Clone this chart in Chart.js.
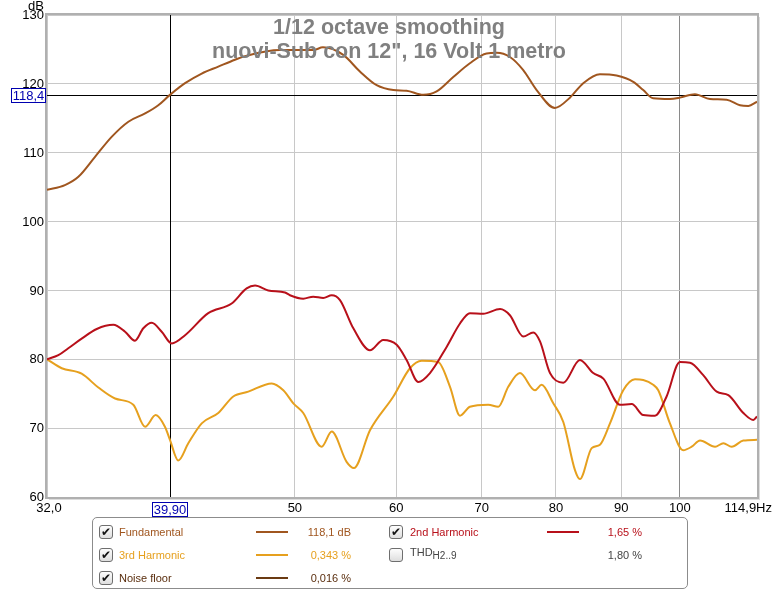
<!DOCTYPE html>
<html>
<head>
<meta charset="utf-8">
<script src="https://cdn.jsdelivr.net/npm/chart.js@4.4.1/dist/chart.umd.min.js"></script>
<style>
  body { margin: 0; background: #fff; font-family: "Liberation Sans", Arial, sans-serif; }
  #wrap { position: relative; width: 780px; height: 591px; }
  #chart { position: absolute; left: 0; top: 0; }
  #legend {
    position: absolute; left: 92px; top: 517px; width: 594px; height: 70px;
    border: 1px solid #8c8c8c; border-radius: 5px; font-size: 11px;
  }
  .item { position: absolute; height: 16px; line-height: 16px; white-space: nowrap; }
  .cb {
    position: absolute; width: 12px; height: 12px; border: 1px solid #6e6e6e; border-radius: 3px;
    background: linear-gradient(#fdfdfd, #dedede); font-size: 12px; line-height: 12px;
    text-align: center; color: #111; font-family: "DejaVu Sans", sans-serif; font-weight: bold;
  }
  .swatch { position: absolute; height: 2px; width: 32px; }
  .val { position: absolute; text-align: right; width: 80px; }
</style>
</head>
<body>
<div id="wrap">
  <canvas id="chart" width="780" height="591"></canvas>
  <div id="legend"></div>
</div>
<script>
// chart text
const titleLines = ["1/12 octave smoothing", "nuovi-Sub con 12\", 16 Volt 1 metro"];
const yTicks = [60, 70, 80, 90, 100, 110, 120, 130];
const xTicks = [32, 50, 60, 70, 80, 90, 100, 114.9];
const xTickLabels = ["32,0", "50", "60", "70", "80", "90", "100", "114,9Hz"];
const cursorFreq = 39.9;
const cursorLevel = 118.4;

// Fundamental (dB)
const fundFreq = [32.0, 33.05, 33.86, 34.89, 35.95, 37.05, 38.18, 39.10, 39.93, 41.03, 42.28, 43.56, 44.89, 45.70,
  48.67, 51.68, 52.59, 54.55, 56.21, 57.93, 59.70, 61.14, 63.00, 64.54, 66.50, 68.52, 70.61, 71.90, 73.64,
  75.43, 77.27, 79.86, 82.04, 84.03, 86.60, 89.23, 91.95, 93.62, 95.31, 98.23, 100.0, 102.75, 105.57,
  108.80, 111.44, 113.13, 114.9];
const fundDb = [104.6, 105.3, 106.5, 109.4, 112.3, 114.5, 115.7, 116.9, 118.4, 120.1, 121.5, 122.5, 123.5, 124.0,
  124.9, 124.9, 125.3, 124.2, 121.8, 119.8, 119.1, 119.0, 118.4, 118.9, 121.0, 123.0, 124.4, 124.5, 123.9,
  122.0, 119.1, 116.5, 118.0, 120.1, 121.4, 121.2, 120.3, 119.1, 117.9, 117.8, 118.0, 118.5, 117.8,
  117.7, 116.9, 116.8, 117.4];

// 2nd harmonic
const h2Freq = [32.0, 32.66, 33.25, 34.06, 35.00, 36.06, 36.83, 37.49, 38.06, 38.64, 39.34, 40.06, 41.03, 42.78,
  44.62, 45.84, 46.54, 47.66, 49.12, 49.56, 50.76, 51.68, 52.62, 53.43, 54.23, 55.55, 57.24, 58.62, 60.06,
  61.14, 62.44, 63.77, 65.71, 67.31, 68.52, 70.19, 72.34, 73.64, 75.43, 76.80, 77.74, 79.15, 81.07, 83.53,
  85.56, 87.13, 89.77, 91.70, 93.62, 95.62, 97.64, 100.0, 101.84, 104.30, 106.86, 109.12, 112.11, 114.14, 114.9];
const h2Db = [80.0, 80.6, 81.6, 83.0, 84.4, 85.0, 84.0, 82.7, 84.5, 85.3, 84.0, 82.3, 83.5, 86.7,
  88.1, 90.3, 90.7, 90.0, 89.7, 89.3, 88.8, 89.1, 88.9, 89.3, 88.6, 84.5, 81.3, 82.8, 82.1,
  79.9, 76.7, 78.0, 81.8, 85.2, 86.7, 86.6, 87.3, 86.4, 83.3, 83.9, 82.6, 78.0, 76.6, 79.9,
  78.0, 77.2, 73.4, 73.5, 71.9, 71.8, 74.6, 79.6, 79.5, 77.7, 75.3, 74.8, 72.2, 71.2, 71.7];

// 3rd harmonic
const h3Freq = [32.0, 32.86, 34.06, 35.10, 36.17, 37.38, 38.18, 38.92, 39.57, 39.93, 40.53, 41.27, 42.28, 43.56,
  44.75, 45.98, 47.96, 48.97, 49.86, 50.76, 52.47, 53.43, 54.88, 55.61, 57.24, 59.70, 61.51, 62.83, 64.72,
  66.11, 67.31, 68.52, 70.82, 72.11, 73.42, 74.98, 77.03, 77.97, 79.62, 81.07, 82.79, 83.53, 85.32, 86.60,
  88.18, 90.31, 92.24, 93.62, 95.31, 96.19, 98.23, 100.61, 102.15, 103.70, 106.54, 108.15, 109.78, 112.11, 114.9];
const h3Db = [80.0, 78.7, 77.9, 75.9, 74.3, 73.4, 70.2, 71.9, 70.2, 68.3, 65.3, 67.8, 70.7, 72.2,
  74.6, 75.3, 76.5, 75.5, 73.6, 72.2, 67.3, 69.5, 65.1, 64.2, 69.7, 74.6, 78.7, 79.8, 79.6,
  76.0, 71.8, 73.1, 73.4, 73.1, 76.0, 78.0, 75.5, 76.3, 73.6, 70.9, 63.9, 62.6, 67.1, 67.6,
  70.7, 75.5, 77.1, 77.0, 76.3, 75.5, 70.7, 66.8, 67.3, 68.2, 67.3, 67.8, 67.3, 68.2, 68.3];

const colFund = "#a0561f";
const colH2 = "#b8101a";
const colH3 = "#e6a01e";
const colNoise = "#6a3a12";

// legend rows
const legendNames = ["Fundamental", "3rd Harmonic", "Noise floor", "2nd Harmonic", "THD"];
const legendValues = ["118,1 dB", "0,343 %", "0,016 %", "1,65 %", "1,80 %"];
const legendColors = [colFund, colH3, colNoise, colH2, null];
const legendTextColors = [colFund, colH3, "#5a2e0e", colH2, "#444"];
const legendChecked = [true, true, true, true, false];

function pts(fs, vs) {
  return fs.map((f, i) => ({ x: f, y: vs[i] }));
}

const FONT = '"Liberation Sans", Arial, sans-serif';

const decorPlugin = {
  id: "decor",
  beforeDatasetsDraw(chart) {
    const { ctx, chartArea: a, scales } = chart;
    const cx = scales.x.getPixelForValue(cursorFreq);
    const cy = scales.y.getPixelForValue(cursorLevel);
    ctx.save();
    ctx.strokeStyle = "#000";
    ctx.lineWidth = 1;
    ctx.beginPath();
    ctx.moveTo(Math.round(cx) + 0.5, a.top);
    ctx.lineTo(Math.round(cx) + 0.5, a.bottom);
    ctx.moveTo(a.left, Math.round(cy) + 0.5);
    ctx.lineTo(a.right, Math.round(cy) + 0.5);
    ctx.stroke();
    ctx.restore();
  },
  afterDatasetsDraw(chart) {
    const { ctx, chartArea: a, scales } = chart;
    ctx.save();
    // frame
    ctx.strokeStyle = "#dcdcdc";
    ctx.lineWidth = 2;
    ctx.beginPath();
    ctx.moveTo(a.right + 2, a.top + 2);
    ctx.lineTo(a.right + 2, a.bottom + 2);
    ctx.lineTo(a.left + 2, a.bottom + 2);
    ctx.stroke();
    ctx.strokeStyle = "#b0b0b0";
    ctx.strokeRect(a.left - 1, a.top - 1, a.right - a.left + 2, a.bottom - a.top + 2);

    // title
    ctx.fillStyle = "#808080";
    ctx.font = "bold 21.5px " + FONT;
    ctx.textAlign = "center";
    ctx.textBaseline = "alphabetic";
    ctx.fillText(titleLines[0], 389, 34);
    ctx.fillText(titleLines[1], 389, 58);

    // y labels
    ctx.fillStyle = "#000";
    ctx.font = "13px " + FONT;
    ctx.textAlign = "right";
    ctx.textBaseline = "middle";
    yTicks.forEach(v => ctx.fillText(String(v), 44, scales.y.getPixelForValue(v) + 0.5));
    ctx.textAlign = "center";
    ctx.fillText("dB", 36, 6);

    // x labels
    ctx.textBaseline = "top";
    xTicks.forEach((v, i) => {
      let px = scales.x.getPixelForValue(v);
      if (i === 0) px += 2;
      if (i === xTicks.length - 1) { ctx.textAlign = "right"; px = 772; }
      ctx.fillText(xTickLabels[i], px, 502);
      ctx.textAlign = "center";
    });

    // cursor value boxes
    const cx = scales.x.getPixelForValue(cursorFreq);
    const cy = scales.y.getPixelForValue(cursorLevel);
    const fmt = (v, d) => v.toFixed(d).replace(".", ",");
    ctx.font = "13px " + FONT;
    const drawBox = (txt, x0, y0, w, h) => {
      ctx.fillStyle = "#fff";
      ctx.fillRect(x0, y0, w, h);
      ctx.strokeStyle = "#0000b0";
      ctx.lineWidth = 1;
      ctx.strokeRect(x0 + 0.5, y0 + 0.5, w - 1, h - 1);
      ctx.fillStyle = "#0000b0";
      ctx.textAlign = "center";
      ctx.textBaseline = "middle";
      ctx.fillText(txt, x0 + w / 2, y0 + h / 2 + 0.5);
    };
    drawBox(fmt(cursorLevel, 1), 11, Math.round(cy) - 7, 35, 15);
    drawBox(fmt(cursorFreq, 2), Math.round(cx) - 18, 502, 36, 15);
    ctx.restore();
  }
};

new Chart(document.getElementById("chart").getContext("2d"), {
  type: "line",
  data: {
    datasets: [
      { label: "Fundamental", data: pts(fundFreq, fundDb), borderColor: colFund },
      { label: "2nd Harmonic", data: pts(h2Freq, h2Db), borderColor: colH2 },
      { label: "3rd Harmonic", data: pts(h3Freq, h3Db), borderColor: colH3 }
    ]
  },
  options: {
    responsive: false,
    animation: false,
    layout: { padding: { left: 47, top: 15, right: 23, bottom: 94 } },
    elements: {
      point: { radius: 0 },
      line: { borderWidth: 2, cubicInterpolationMode: "monotone", fill: false }
    },
    plugins: { legend: { display: false }, tooltip: { enabled: false } },
    scales: {
      x: {
        type: "logarithmic", min: 32, max: 114.9,
        afterBuildTicks: s => { s.ticks = xTicks.map(v => ({ value: v })); },
        afterFit: s => { s.height = 0; },
        ticks: { display: false },
        border: { display: false },
        grid: {
          drawTicks: false,
          color: c => (c.tick.value === 100 ? "#8a8a8a" : "#c8c8c8")
        }
      },
      y: {
        min: 60, max: 130,
        afterBuildTicks: s => { s.ticks = yTicks.map(v => ({ value: v })); },
        afterFit: s => { s.width = 0; },
        ticks: { display: false },
        border: { display: false },
        grid: { drawTicks: false, color: "#c8c8c8" }
      }
    }
  },
  plugins: [decorPlugin]
});

// legend
const legend = document.getElementById("legend");
const cols = [
  { cb: 6, name: 26, sw: 163, val: 178 },
  { cb: 296, name: 317, sw: 454, val: 469 }
];
const rowsY = [6, 29, 52];
legendNames.forEach((name, i) => {
  const c = cols[i < 3 ? 0 : 1];
  const y = rowsY[i < 3 ? i : i - 3];
  const cb = document.createElement("div");
  cb.className = "cb";
  cb.style.left = c.cb + "px";
  cb.style.top = (y + 1) + "px";
  cb.textContent = legendChecked[i] ? "\u2714" : "";
  legend.appendChild(cb);

  const nm = document.createElement("div");
  nm.className = "item";
  nm.style.left = c.name + "px";
  nm.style.top = y + "px";
  nm.style.color = legendTextColors[i];
  if (name === "THD") {
    nm.innerHTML = "THD<sub style=\"font-size:10px\">H2..9</sub>";
    nm.style.top = (y - 3) + "px";
  } else {
    nm.textContent = name;
  }
  legend.appendChild(nm);

  if (legendColors[i]) {
    const sw = document.createElement("div");
    sw.className = "swatch";
    sw.style.left = c.sw + "px";
    sw.style.top = (y + 7) + "px";
    sw.style.background = legendColors[i];
    legend.appendChild(sw);
  }

  const v = document.createElement("div");
  v.className = "item val";
  v.style.left = c.val + "px";
  v.style.top = y + "px";
  v.style.color = legendTextColors[i];
  v.textContent = legendValues[i];
  legend.appendChild(v);
});
</script>
</body>
</html>
